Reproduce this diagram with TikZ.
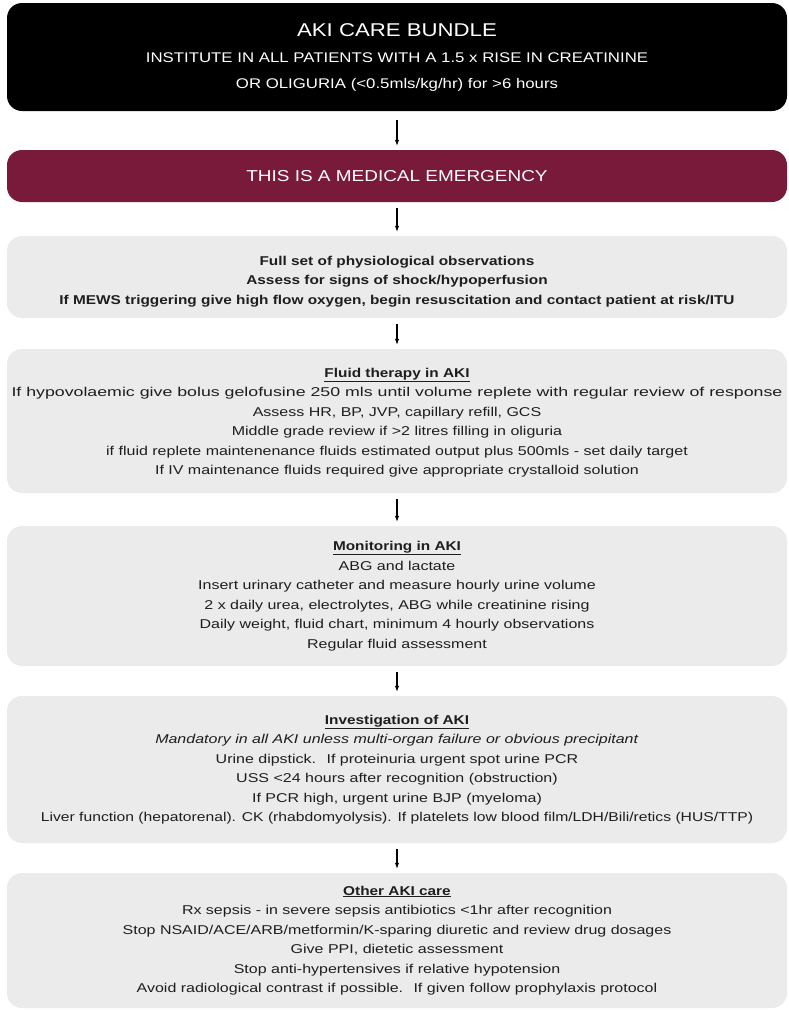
\documentclass[tikz,border=0pt]{standalone}
\usepackage{fontspec}
\usepackage{graphicx}
\setmainfont{Liberation Sans}
\newfontfamily\bodyfont[FakeStretch=1.25]{Liberation Sans}
\newfontfamily\headfont[FakeStretch=1.2]{Liberation Sans}
\usepackage{tikz}
\usetikzlibrary{positioning}
\usetikzlibrary{arrows.meta}

\definecolor{aki-black}{HTML}{000000}
\definecolor{aki-wine}{HTML}{7A1A3B}
\definecolor{aki-grey}{HTML}{EBEBEB}
\definecolor{aki-text}{HTML}{1E1E1E}

\tikzset{
  carebox/.style = {rounded corners = 15pt, minimum width = 780pt, inner sep = 0pt, align = center},
  greybox/.style = {carebox, fill = aki-grey, text = aki-text,
                    font = \bodyfont\fontsize{12.8}{19.5}\selectfont},
  flowarrow/.style = {-{Latex[length=6pt,width=4.5pt]}, line width = 1.1pt,
                      shorten <= 6pt, shorten >= 4pt}
}
\newcommand{\hd}[1]{{\headfont\bfseries #1}}

\begin{document}
\begin{tikzpicture}[x = 1pt, y = -1pt]
    \useasboundingbox (0,0) rectangle (788,1010);
    \node[carebox, fill = aki-black, text = white, minimum height = 108pt,
          font = \headfont\fontsize{14}{26}\selectfont] at (397,57) (bundle)
        {{\fontsize{18.5}{26}\selectfont AKI CARE BUNDLE}\\
         INSTITUTE IN ALL PATIENTS WITH A 1.5 x RISE IN CREATININE\\
         OR OLIGURIA (<0.5mls/kg/hr) for >6 hours};
    \node[carebox, fill = aki-wine, text = white, minimum height = 52pt,
          font = \headfont\fontsize{15.8}{19}\selectfont] at (397,176) (emergency)
        {THIS IS A MEDICAL EMERGENCY};
    \node[greybox, minimum height = 82pt] at (397,277) (obs)
        {\rule{0pt}{18pt}\hd{Full set of physiological observations}\\
         \hd{Assess for signs of shock/hypoperfusion}\\
         \hd{If MEWS triggering give high flow oxygen, begin resuscitation and contact patient at risk/ITU}};
    \node[greybox, minimum height = 144pt] at (397,421) (fluid)
        {\rule{0pt}{13pt}\underline{\hd{Fluid therapy in AKI}}\\
         \scalebox{1.11}[1]{If hypovolaemic give bolus gelofusine 250 mls until volume replete with regular review of response}\\
         Assess HR, BP, JVP, capillary refill, GCS\\
         Middle grade review if >2 litres filling in oliguria\\
         if fluid replete maintenenance fluids estimated output plus 500mls - set daily target\\
         If IV maintenance fluids required give appropriate crystalloid solution};
    \node[greybox, minimum height = 140pt] at (397,596) (monitor)
        {\underline{\hd{Monitoring in AKI}}\\
         ABG and lactate\\
         Insert urinary catheter and measure hourly urine volume\\
         2 x daily urea, electrolytes, ABG while creatinine rising\\
         Daily weight, fluid chart, minimum 4 hourly observations\\
         Regular fluid assessment};
    \node[greybox, minimum height = 147pt] at (397,769.5) (invest)
        {\underline{\hd{Investigation of AKI}}\\
         \textit{Mandatory in all AKI unless multi-organ failure or obvious precipitant}\\
         Urine dipstick.~ If proteinuria urgent spot urine PCR\\
         USS <24 hours after recognition (obstruction)\\
         If PCR high, urgent urine BJP (myeloma)\\
         \scalebox{0.98}[1]{Liver function (hepatorenal). CK (rhabdomyolysis). If platelets low blood film/LDH/Bili/retics (HUS/TTP)}};
    \node[greybox, minimum height = 135pt] at (397,940.5) (other)
        {\underline{\hd{Other AKI care}}\\
         Rx sepsis - in severe sepsis antibiotics <1hr after recognition\\
         Stop NSAID/ACE/ARB/metformin/K-sparing diuretic and review drug dosages\\
         Give PPI, dietetic assessment\\
         Stop anti-hypertensives if relative hypotension\\
         Avoid radiological contrast if possible.~ If given follow prophylaxis protocol};

    \draw[flowarrow, shorten <= 9pt] (bundle) -- (emergency);
    \draw[flowarrow] (emergency) -- (obs);
    \draw[flowarrow] (obs) -- (fluid);
    \draw[flowarrow] (fluid) -- (monitor);
    \draw[flowarrow] (monitor) -- (invest);
    \draw[flowarrow] (invest) -- (other);
\end{tikzpicture}
\end{document}
